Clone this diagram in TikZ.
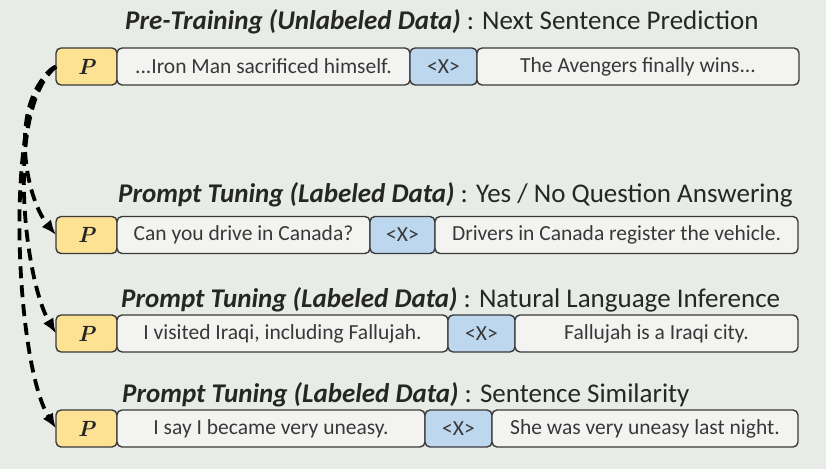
\documentclass[tikz,border=0pt]{standalone}
\usepackage{fontspec}
\setsansfont{Carlito}
\usepackage{tikz}
\usetikzlibrary{arrows.meta,positioning}
\definecolor{bgcol}{HTML}{E8ECE6}
\definecolor{edgecol}{HTML}{3A3A3A}
\definecolor{txtcol}{HTML}{383838}
\definecolor{promptcol}{HTML}{FDE294}
\definecolor{maskcol}{HTML}{BDD7EE}
\definecolor{sentcol}{HTML}{F3F4F1}

\begin{document}
\begin{tikzpicture}[
    x=1pt, y=1pt,
    every node/.style={font=\sffamily\fontsize{21.5}{25}\selectfont, text=txtcol},
    cell/.style={rectangle, draw=edgecol, line width=1.4pt, rounded corners=5pt, outer sep=0pt, minimum height=37pt, inner sep=0pt},
    pbox/.style={cell, fill=promptcol, minimum width=61pt, font=\rmfamily\bfseries\itshape\fontsize{22}{26}\selectfont, text=black!85},
    sent/.style={cell, fill=sentcol},
    mask/.style={cell, fill=maskcol, minimum width=66pt},
    title/.style={anchor=base west, inner sep=0pt, font=\sffamily\fontsize{27}{31}\selectfont, text=black!85},
    link/.style={-{Latex[length=15pt,width=12pt]}, line width=3.8pt, dash pattern=on 12pt off 7pt, black},
]
    \useasboundingbox[fill=bgcol] (0,0) rectangle (826,469);

    % pre-training row
    \node[title] (t1) at (125,439) {\textbf{\textit{Pre-Training (Unlabeled Data)}} : Next Sentence Prediction};
    \node[pbox, anchor=west] (p1) at (56,402.5) {P};
    \node[sent, minimum width=293pt, right=0pt of p1] (a1) {...Iron Man sacrificed himself.};
    \node[mask, minimum width=67pt, right=0pt of a1] (x1) {<X>};
    \node[sent, minimum width=322pt, right=0pt of x1] (b1) {The Avengers finally wins...};

    % prompt tuning rows
    \node[title] (t2) at (118,266) {\textbf{\textit{Prompt Tuning (Labeled Data)}} : Yes / No Question Answering};
    \node[pbox, anchor=west] (p2) at (56,234) {P};
    \node[sent, minimum width=253pt, right=0pt of p2] (a2) {Can you drive in Canada?};
    \node[mask, minimum width=65pt, right=0pt of a2] (x2) {<X>};
    \node[sent, minimum width=363pt, right=0pt of x2] (b2) {Drivers in Canada register the vehicle.};

    \node[title] (t3) at (121,162) {\textbf{\textit{Prompt Tuning (Labeled Data)}} : Natural Language Inference};
    \node[pbox, anchor=west] (p3) at (56,135.5) {P};
    \node[sent, minimum width=331pt, right=0pt of p3] (a3) {I visited Iraqi, including Fallujah.};
    \node[mask, minimum width=67pt, right=0pt of a3] (x3) {<X>};
    \node[sent, minimum width=283pt, right=0pt of x3] (b3) {Fallujah is a Iraqi city.};

    \node[title] (t4) at (122,67) {\textbf{\textit{Prompt Tuning (Labeled Data)}} : Sentence Similarity};
    \node[pbox, anchor=west] (p4) at (56,40.5) {P};
    \node[sent, minimum width=308pt, right=0pt of p4] (a4) {I say I became very uneasy.};
    \node[mask, minimum width=67pt, right=0pt of a4] (x4) {<X>};
    \node[sent, minimum width=306pt, right=0pt of x4] (b4) {She was very uneasy last night.};

    % the prompt is passed down to every task
    \draw[link] (p1.west) .. controls (8,370) and (24,273) .. (p2.west);
    \draw[link] (p1.west) .. controls (5,360) and (24,190) .. (p3.west);
    \draw[link] (p1.west) .. controls (3,380) and (14,107) .. (p4.west);
\end{tikzpicture}
\end{document}
